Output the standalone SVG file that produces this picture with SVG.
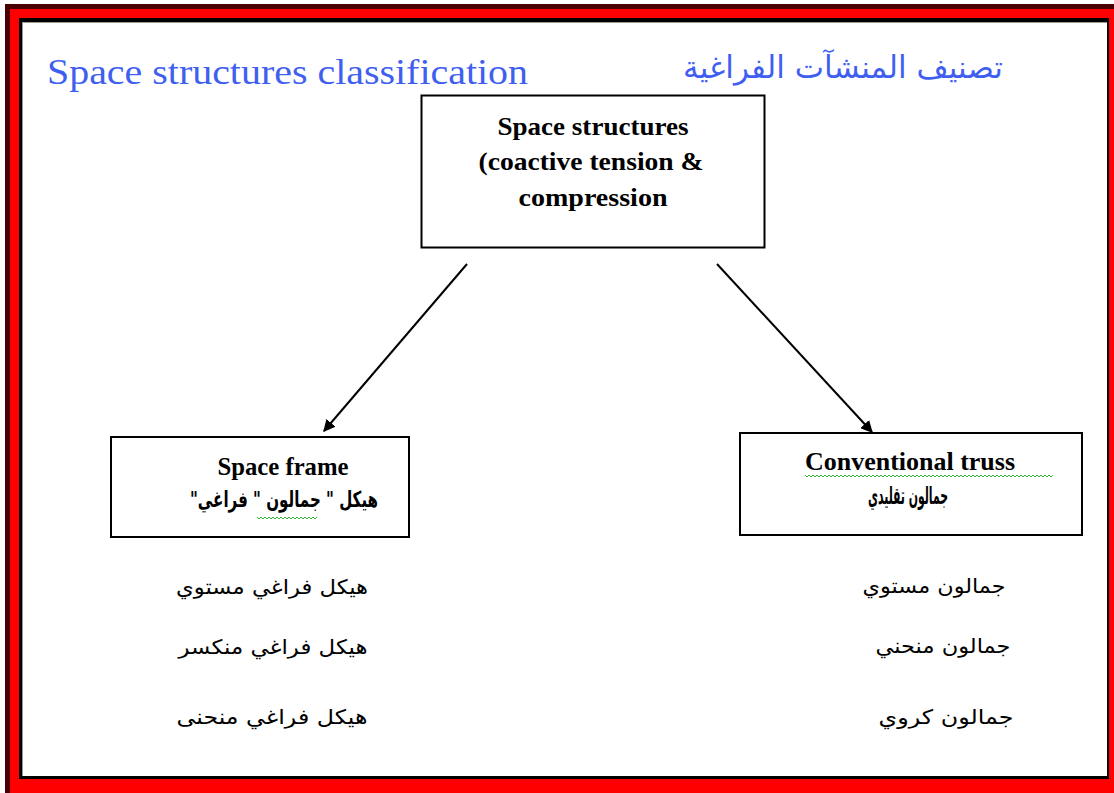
<svg xmlns="http://www.w3.org/2000/svg" width="1114" height="793" viewBox="0 0 1114 793">
<style>
.box{fill:#fff;stroke:#000;stroke-width:2}
.en{font-family:"Liberation Serif","Times New Roman",serif;font-weight:bold;font-size:25px;fill:#000}
.ar{font-family:"DejaVu Sans","Noto Sans",sans-serif;font-size:20px;fill:#000;direction:rtl;unicode-bidi:embed}
.title{fill:#3f5ff0}
.conn{stroke:#000;stroke-width:2;fill:none}
.squig{stroke:#2fb52f;stroke-width:1;fill:none}
</style>
<defs>
<marker id="ah" viewBox="0 0 10 10" refX="9" refY="5" markerWidth="6" markerHeight="6" orient="auto" markerUnits="strokeWidth">
<path d="M0,0 L10,5 L0,10 z" fill="#000"/>
</marker>
</defs>
<g id="frame">
<rect x="0" y="0" width="1114" height="793" fill="#fff"/>
<rect x="5" y="4" width="1109" height="789" fill="#4a0000"/>
<rect x="10" y="9" width="1104" height="784" fill="#ff0000"/>
<rect x="19" y="18" width="1090" height="761" fill="#000"/>
<rect x="22" y="22" width="1085" height="754" fill="#9a9a9a"/>
<rect x="23" y="23" width="1084" height="753" fill="#fff"/>
</g>
<g id="titles">
<text x="47" y="84" font-family="Liberation Serif, serif" font-size="35" class="title" textLength="481" lengthAdjust="spacingAndGlyphs">Space structures classification</text>
<text x="843" y="78" font-family="DejaVu Sans, sans-serif" font-size="31" class="title" text-anchor="middle" direction="rtl" textLength="320" lengthAdjust="spacingAndGlyphs">تصنيف المنشآت الفراغية</text>
</g>
<g id="connectors">
<line class="conn" x1="467" y1="264" x2="324" y2="431" marker-end="url(#ah)"/>
<line class="conn" x1="717" y1="264" x2="872" y2="432" marker-end="url(#ah)"/>
</g>
<g id="node-root">
<rect class="box" x="421.5" y="95.5" width="343" height="152"/>
<text class="en" x="593" y="135" text-anchor="middle" textLength="191" lengthAdjust="spacingAndGlyphs">Space structures</text>
<text class="en" x="591" y="170" text-anchor="middle" textLength="225" lengthAdjust="spacingAndGlyphs">(coactive tension &amp;</text>
<text class="en" x="593" y="206" text-anchor="middle" textLength="149" lengthAdjust="spacingAndGlyphs">compression</text>
</g>
<g id="node-space-frame">
<rect class="box" x="111" y="437" width="298" height="100"/>
<text class="en" x="283" y="475" text-anchor="middle" textLength="131" lengthAdjust="spacingAndGlyphs">Space frame</text>
<text class="ar" x="284" y="507" text-anchor="middle" style="font-size:22px;font-weight:bold" textLength="188" lengthAdjust="spacingAndGlyphs">هيكل " جمالون " فراغي"</text>
<path class="squig" d="M257,517 l2,2 l2,-2 l2,2 l2,-2 l2,2 l2,-2 l2,2 l2,-2 l2,2 l2,-2 l2,2 l2,-2 l2,2 l2,-2 l2,2 l2,-2 l2,2 l2,-2 l2,2 l2,-2 l2,2 l2,-2 l2,2 l2,-2 l2,2 l2,-2 l2,2 l2,-2 l2,2 l2,-2"/>
</g>
<g id="node-conventional-truss">
<rect class="box" x="740" y="433" width="342" height="102"/>
<text class="en" x="910" y="470" text-anchor="middle" textLength="210" lengthAdjust="spacingAndGlyphs">Conventional  truss</text>
<text class="ar" x="908" y="504" text-anchor="middle" style="font-size:24px;font-weight:bold" textLength="80" lengthAdjust="spacingAndGlyphs">جمالون تقليدي</text>
<path class="squig" d="M805,475 l2,2 l2,-2 l2,2 l2,-2 l2,2 l2,-2 l2,2 l2,-2 l2,2 l2,-2 l2,2 l2,-2 l2,2 l2,-2 l2,2 l2,-2 l2,2 l2,-2 l2,2 l2,-2 l2,2 l2,-2 l2,2 l2,-2 l2,2 l2,-2 l2,2 l2,-2 l2,2 l2,-2 l2,2 l2,-2 l2,2 l2,-2 l2,2 l2,-2 l2,2 l2,-2 l2,2 l2,-2 l2,2 l2,-2 l2,2 l2,-2 l2,2 l2,-2 l2,2 l2,-2 l2,2 l2,-2 l2,2 l2,-2 l2,2 l2,-2 l2,2 l2,-2 l2,2 l2,-2 l2,2 l2,-2 l2,2 l2,-2 l2,2 l2,-2 l2,2 l2,-2 l2,2 l2,-2 l2,2 l2,-2 l2,2 l2,-2 l2,2 l2,-2 l2,2 l2,-2 l2,2 l2,-2 l2,2 l2,-2 l2,2 l2,-2 l2,2 l2,-2 l2,2 l2,-2 l2,2 l2,-2 l2,2 l2,-2 l2,2 l2,-2 l2,2 l2,-2 l2,2 l2,-2 l2,2 l2,-2 l2,2 l2,-2 l2,2 l2,-2 l2,2 l2,-2 l2,2 l2,-2 l2,2 l2,-2 l2,2 l2,-2 l2,2 l2,-2 l2,2 l2,-2 l2,2 l2,-2 l2,2 l2,-2 l2,2 l2,-2 l2,2 l2,-2 l2,2 l2,-2"/>
</g>
<g id="list-space-frame">
<text class="ar" x="272" y="594" text-anchor="middle" textLength="192" lengthAdjust="spacingAndGlyphs">هيكل فراغي مستوي</text>
<text class="ar" x="273" y="654" text-anchor="middle" textLength="189" lengthAdjust="spacingAndGlyphs">هيكل فراغي منكسر</text>
<text class="ar" x="272" y="724" text-anchor="middle" textLength="191" lengthAdjust="spacingAndGlyphs">هيكل فراغي منحنى</text>
</g>
<g id="list-truss">
<text class="ar" x="934" y="593" text-anchor="middle" textLength="143" lengthAdjust="spacingAndGlyphs">جمالون مستوي</text>
<text class="ar" x="943" y="653" text-anchor="middle" textLength="135" lengthAdjust="spacingAndGlyphs">جمالون منحني</text>
<text class="ar" x="946" y="724" text-anchor="middle" textLength="135" lengthAdjust="spacingAndGlyphs">جمالون كروي</text>
</g>
</svg>
